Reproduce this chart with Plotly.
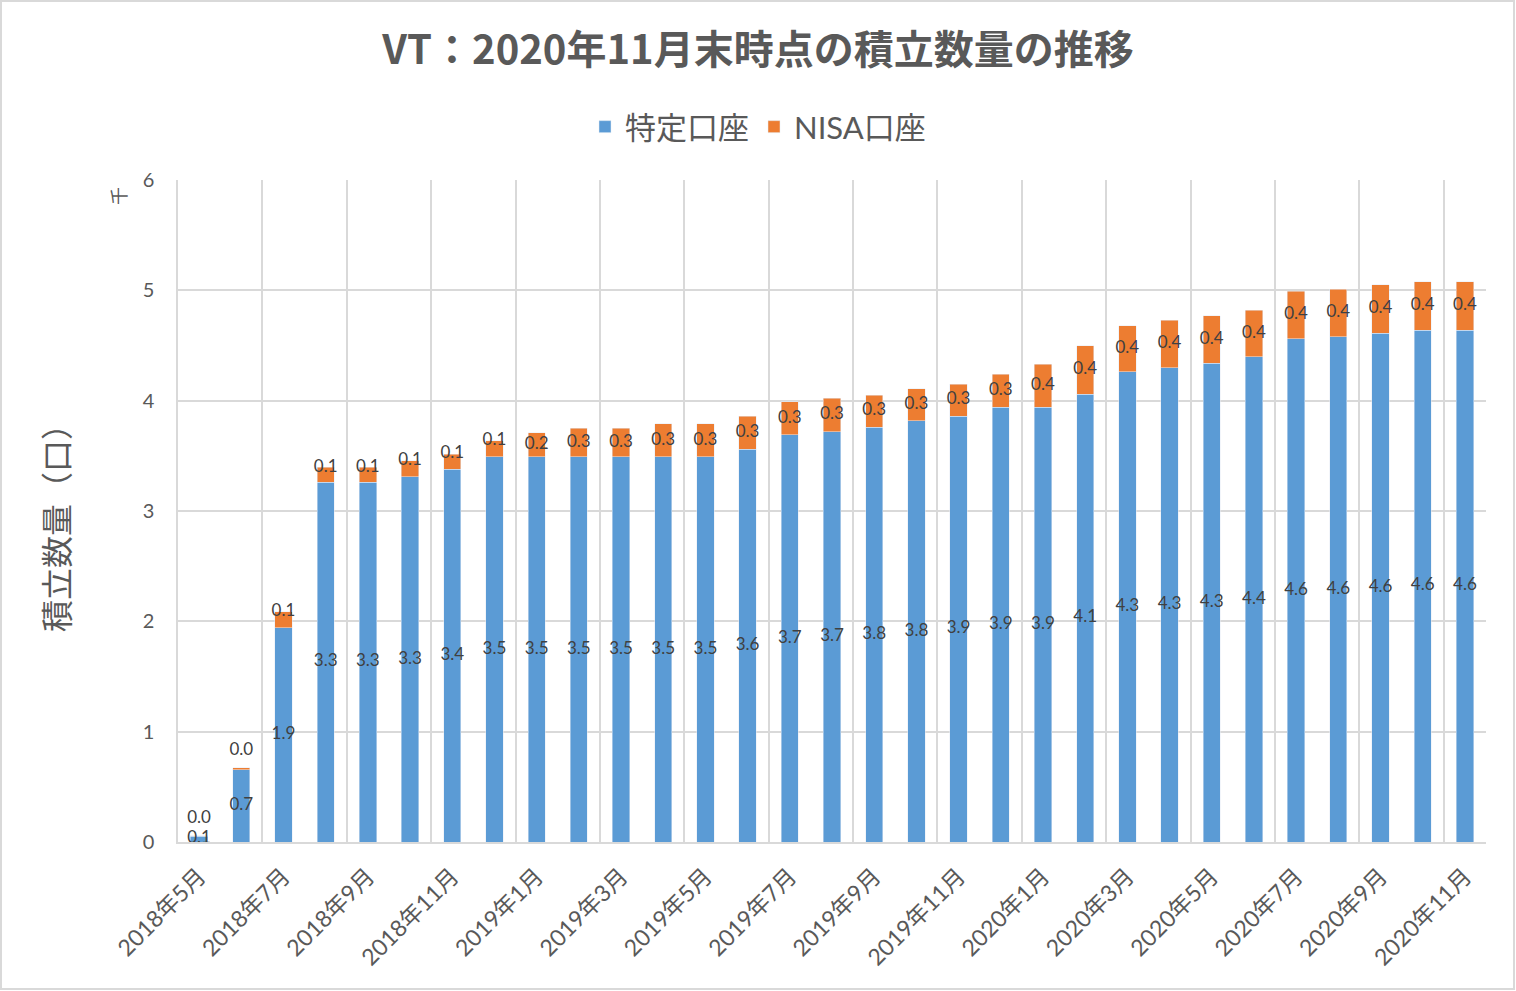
import plotly.graph_objects as go

# VT 積立数量（千口）
months = [
    "2018年5月", "2018年6月", "2018年7月", "2018年8月", "2018年9月", "2018年10月",
    "2018年11月", "2018年12月", "2019年1月", "2019年2月", "2019年3月", "2019年4月",
    "2019年5月", "2019年6月", "2019年7月", "2019年8月", "2019年9月", "2019年10月",
    "2019年11月", "2019年12月", "2020年1月", "2020年2月", "2020年3月", "2020年4月",
    "2020年5月", "2020年6月", "2020年7月", "2020年8月", "2020年9月", "2020年10月",
    "2020年11月",
]
tokutei = [0.054, 0.653, 1.94, 3.26, 3.26, 3.31, 3.38, 3.49, 3.49, 3.49, 3.49, 3.49,
           3.49, 3.56, 3.69, 3.72, 3.76, 3.82, 3.86, 3.94, 3.94, 4.06, 4.26, 4.30,
           4.34, 4.40, 4.56, 4.58, 4.61, 4.64, 4.64]
nisa = [0.003, 0.02, 0.145, 0.136, 0.136, 0.145, 0.136, 0.145, 0.22, 0.26, 0.26, 0.30,
        0.30, 0.30, 0.30, 0.30, 0.29, 0.29, 0.29, 0.30, 0.39, 0.44, 0.42, 0.43,
        0.43, 0.42, 0.43, 0.43, 0.44, 0.44, 0.44]

BLUE = "#5B9BD5"
ORANGE = "#ED7D31"
GRID = "#D9D9D9"
GRAY = "#595959"
FONT = "Lato, 'Noto Sans CJK JP'"
JP = "'Noto Sans CJK JP'"

x = list(range(len(months)))

fig = go.Figure()
fig.add_trace(go.Bar(x=x, y=tokutei, name="特定口座", marker_color=BLUE, width=0.41))
fig.add_trace(go.Bar(x=x, y=nisa, name="NISA口座", marker_color=ORANGE, width=0.41))

# data labels: middle of each segment, thin NISA segments labelled at / above the top
blue_pos = [b / 2 for b in tokutei]
orange_pos = []
for b, o in zip(tokutei, nisa):
    if o < 0.05:
        orange_pos.append(b + o + 0.15)
    elif o < 0.2:
        orange_pos.append(b + o)
    else:
        orange_pos.append(b + o / 2)

fig.add_trace(go.Scatter(x=x, y=blue_pos, mode="text", text=[f"{v:.1f}" for v in tokutei],
                         textfont=dict(size=17, color="#404040", family=FONT),
                         showlegend=False, hoverinfo="skip"))
fig.add_trace(go.Scatter(x=x, y=orange_pos, mode="text", text=[f"{v:.1f}" for v in nisa],
                         textfont=dict(size=17, color="#404040", family=FONT),
                         showlegend=False, hoverinfo="skip"))

fig.update_layout(
    width=1516, height=991,
    barmode="stack",
    paper_bgcolor="white", plot_bgcolor="white",
    margin=dict(l=178, r=30, t=180, b=149),
    font=dict(family=FONT, color=GRAY),
    title=dict(text="<b>VT：2020年11月末時点の積立数量の推移</b>",
               x=0.5, xanchor="center", y=1 - 50 / 991, yanchor="middle",
               font=dict(size=40, color=GRAY, family=JP)),
    legend=dict(orientation="h", xref="container", yref="container",
                x=0.5, xanchor="center", y=1 - 127 / 991, yanchor="middle",
                font=dict(size=31, color=GRAY, family=FONT), itemwidth=30,
                traceorder="normal"),
    showlegend=True,
)

fig.update_xaxes(
    range=[-0.5, len(months) - 0.5],
    tickmode="array",
    tickvals=x[::2], ticktext=months[::2],
    tickangle=-45, tickfont=dict(size=23, color=GRAY, family=FONT),
    ticklabelstandoff=10,
    showgrid=False, zeroline=False,
    showline=True, linecolor=GRID, linewidth=1.5,
    ticks="",
    minor=dict(tickmode="array", tickvals=[i + 1.5 for i in range(0, len(months) - 2, 2)],
               showgrid=True, gridcolor=GRID, gridwidth=1.5, ticks=""),
)
fig.update_yaxes(
    range=[0, 6], dtick=1,
    showgrid=True, gridcolor=GRID, gridwidth=1.5,
    zeroline=False, showline=True, linecolor=GRID, linewidth=1.5,
    tickfont=dict(size=20, color=GRAY, family=FONT),
    ticklabelstandoff=18,
)

# axis title and display unit
fig.add_annotation(text="積立数量（口）", xref="paper", yref="paper",
                   x=(55 - 178) / 1308, y=(842 - 520) / 662, textangle=-90,
                   xanchor="center", yanchor="middle",
                   showarrow=False, font=dict(size=32, color=GRAY, family=JP))
fig.add_annotation(text="千", xref="paper", yref="paper",
                   x=(118 - 178) / 1308, y=(842 - 196) / 662, textangle=-90,
                   xanchor="center", yanchor="middle",
                   showarrow=False, font=dict(size=18, color=GRAY, family=JP))

# outer chart border
fig.add_shape(type="rect", xref="paper", yref="paper",
              x0=(1 - 178) / 1308, x1=(1514 - 178) / 1308,
              y0=(842 - 989) / 662, y1=(842 - 1) / 662,
              line=dict(color=GRID, width=2), layer="below")

fig.write_html("out.html", config={"displayModeBar": False},
               post_script="document.body.style.margin='0px';")
